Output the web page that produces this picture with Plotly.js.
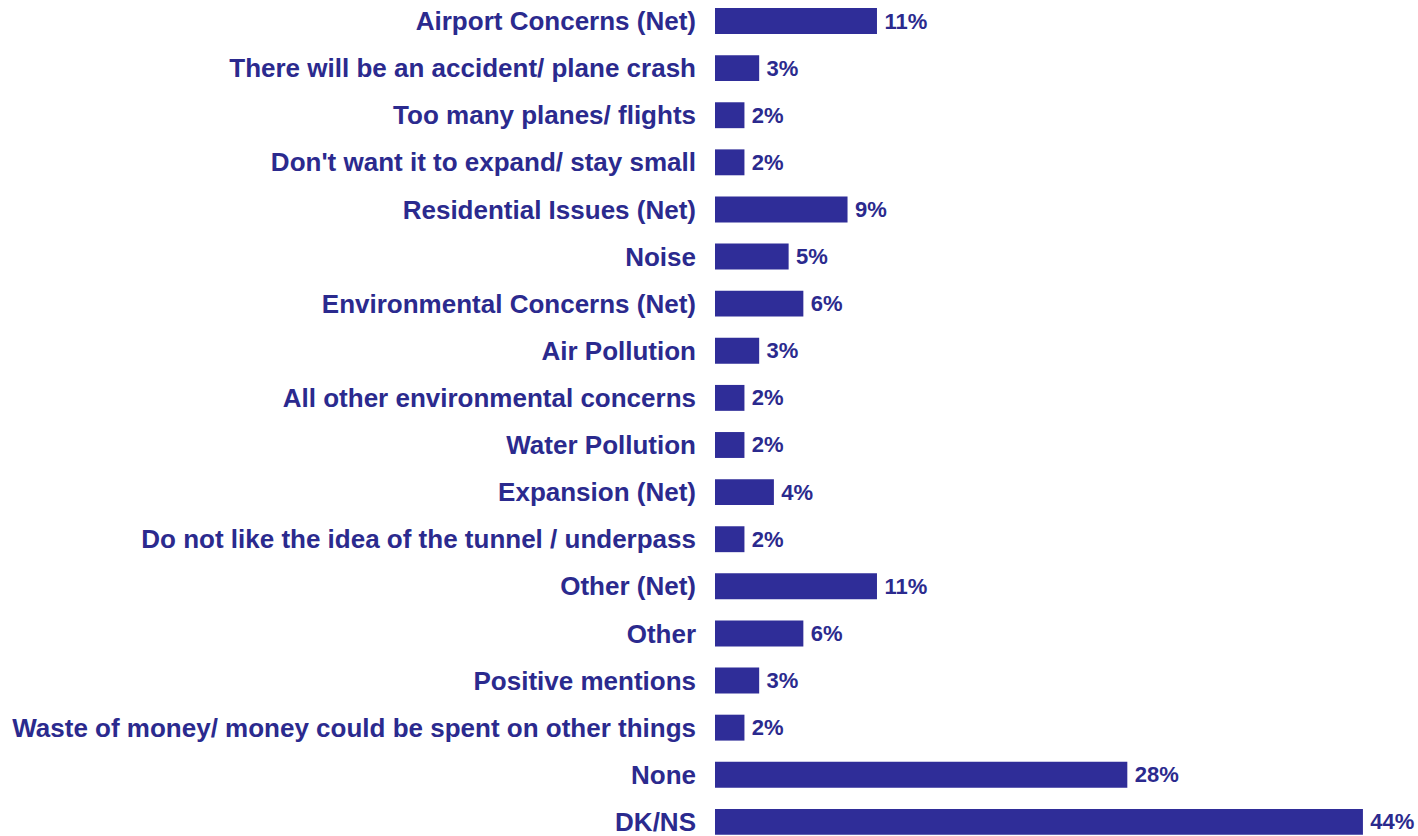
<!DOCTYPE html>
<html>
<head>
<meta charset="utf-8">
<script src="https://cdn.plot.ly/plotly-3.0.1.min.js"></script>
<style>
html,body{margin:0;padding:0;background:#fff;}
#chart{width:1418px;height:836px;}
</style>
</head>
<body>
<div id="chart"></div>
<script>
const categories = [
  "Airport Concerns (Net)",
  "There will be an accident/ plane crash",
  "Too many planes/ flights",
  "Don't want it to expand/ stay small",
  "Residential Issues (Net)",
  "Noise",
  "Environmental Concerns (Net)",
  "Air Pollution",
  "All other environmental concerns",
  "Water Pollution",
  "Expansion (Net)",
  "Do not like the idea of the tunnel / underpass",
  "Other (Net)",
  "Other",
  "Positive mentions",
  "Waste of money/ money could be spent on other things",
  "None",
  "DK/NS"
];
const values = [11, 3, 2, 2, 9, 5, 6, 3, 2, 2, 4, 2, 11, 6, 3, 2, 28, 44];
const valueLabels = values.map(v => "\u2009" + v + "%");

const barColor = "#2F2D98";
const textColor = "#2B2A8E";

const trace = {
  type: "bar",
  orientation: "h",
  x: values,
  y: categories,
  text: valueLabels,
  textposition: "outside",
  cliponaxis: false,
  textfont: {family: "Liberation Sans, Arial, sans-serif", size: 22, color: textColor, weight: "bold"},
  marker: {color: barColor, line: {width: 0}},
  hoverinfo: "none"
};

const layout = {
  width: 1418,
  height: 836,
  margin: {l: 715, r: 5, t: 0, b: 0, pad: 0},
  paper_bgcolor: "#ffffff",
  plot_bgcolor: "#ffffff",
  showlegend: false,
  bargap: 0.45,
  xaxis: {
    range: [0, 47.4],
    visible: false,
    showgrid: false,
    zeroline: false,
    fixedrange: true
  },
  yaxis: {
    type: "category",
    range: [17.30, -0.446],
    showgrid: false,
    zeroline: false,
    showline: false,
    ticks: "",
    ticklabelstandoff: 18,
    tickfont: {family: "Liberation Sans, Arial, sans-serif", size: 26, color: textColor, weight: "bold"},
    automargin: false,
    fixedrange: true
  }
};

Plotly.newPlot("chart", [trace], layout, {displayModeBar: false, staticPlot: true});
</script>
</body>
</html>
